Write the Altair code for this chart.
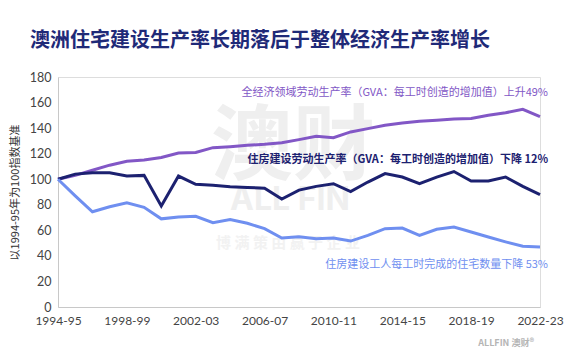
import altair as alt
import pandas as pd

years = ["1994-95","1995-96","1996-97","1997-98","1998-99","1999-00","2000-01","2001-02",
         "2002-03","2003-04","2004-05","2005-06","2006-07","2007-08","2008-09","2009-10",
         "2010-11","2011-12","2012-13","2013-14","2014-15","2015-16","2016-17","2017-18",
         "2018-19","2019-20","2020-21","2021-22","2022-23"]
tick_labels = ["1994-95","1998-99","2002-03","2006-07","2010-11","2014-15","2018-19","2022-23"]

economy = [100, 103, 107, 111, 114, 115, 117, 120.5, 121, 124.7, 125.5, 126.5, 127.3, 128.5,
           131, 133.6, 132.5, 137, 139.6, 142.2, 144, 145.4, 146.2, 147.2, 147.5, 150, 152, 154.7, 149]
housing_gva = [100, 104, 105, 105, 102.5, 103, 79, 102.5, 96, 95.2, 94.2, 93.5, 93, 84.5,
               91.5, 94.4, 96.5, 90.3, 97.8, 104.4, 101.7, 96.5, 101.7, 106, 98.6, 98.6, 101.7, 94.4, 88]
dwellings = [100, 87, 74.5, 78.5, 81.5, 78, 69, 70.5, 71, 66, 68.5, 65.5, 61.3, 54, 55, 53.5,
             54, 51.6, 56, 61.3, 61.8, 56, 60.8, 62.6, 58.7, 54.8, 51, 47.5, 47]

series_names = ["全经济领域劳动生产率", "住房建设劳动生产率", "住房建设工人每工时完成的住宅数量"]
series_colors = ["#8257c6", "#1c2170", "#6f8ff0"]
labels = ["全经济领域劳动生产率（GVA：每工时创造的增加值）上升49%",
          "住房建设劳动生产率（GVA：每工时创造的增加值）下降 12%",
          "住房建设工人每工时完成的住宅数量下降 53%"]

rows = []
for name, vals in zip(series_names, [economy, housing_gva, dwellings]):
    for y, v in zip(years, vals):
        rows.append({"year": y, "value": v, "series": name})
df = pd.DataFrame(rows)

FONT = "Noto Sans CJK SC"
W, H = 482, 230

def txt(s, x, y, size, color, weight="normal", align="left", opacity=1.0, font=FONT):
    return alt.Chart(pd.DataFrame({"t": [s]})).mark_text(
        fontSize=size, color=color, fontWeight=weight, align=align, baseline="middle",
        font=font, opacity=opacity
    ).encode(text="t:N", x=alt.value(x), y=alt.value(y))

wm1 = txt("澳财", 235, 71, 82, "#efefef", weight="bold", align="center")
wm2 = txt("ALL FIN", 232, 123, 32, "#efefef", weight="bold", align="center", font="Inter")
wm3 = txt("博 满 策 由 赢 于 企 业", 230, 166, 15, "#f2f2f2", weight="bold", align="center")
logo = txt("ALLFIN 澳财®", 476, 266, 9, "#b5b5b5", weight="bold", align="right")

lines = alt.Chart(df).mark_line(strokeWidth=3, strokeJoin="miter").encode(
    x=alt.X("year:O", sort=years, scale=alt.Scale(type="point", padding=0),
            axis=alt.Axis(values=tick_labels, labelAngle=0, title=None, ticks=False,
                          labelPadding=8, labelFontSize=12, labelColor="#444444",
                          domainColor="#c8c8c8", labelFont="Lato")),
    y=alt.Y("value:Q", scale=alt.Scale(domain=[0, 180], nice=False),
            axis=alt.Axis(values=list(range(0, 181, 20)), grid=False, ticks=False,
                          labelPadding=7, labelFontSize=12.5, labelColor="#444444",
                          domainColor="#c8c8c8", labelFont="Lato",
                          title="以1994-95年为100指数基准", titleFontSize=11,
                          titleFontWeight="normal", titleColor="#333333", titlePadding=9,
                          titleFont=FONT)),
    color=alt.Color("series:N", scale=alt.Scale(domain=series_names, range=series_colors),
                    legend=None),
    detail="series:N",
)

lab1 = txt(labels[0], 490, 16, 11, series_colors[0], weight="normal", align="right")
lab2 = txt(labels[1], 490, 83, 11, series_colors[1], weight="bold", align="right")
lab3 = txt(labels[2], 490, 188, 11, series_colors[2], weight="normal", align="right")

chart = alt.layer(wm1, wm2, wm3, logo, lines, lab1, lab2, lab3).properties(
    width=W, height=H,
    title=alt.TitleParams("澳洲住宅建设生产率长期落后于整体经济生产率增长",
                          fontSize=20, fontWeight="bold", color="#1f2a78", font=FONT,
                          anchor="start", frame="group", dx=-28, offset=20),
    autosize=alt.AutoSizeParams(type="none"),
    padding={"left": 58, "top": 77, "right": 44, "bottom": 49},
).configure_view(stroke=None).configure(background="white")

chart.save("out.html", embed_options={"renderer": "svg", "actions": False})
